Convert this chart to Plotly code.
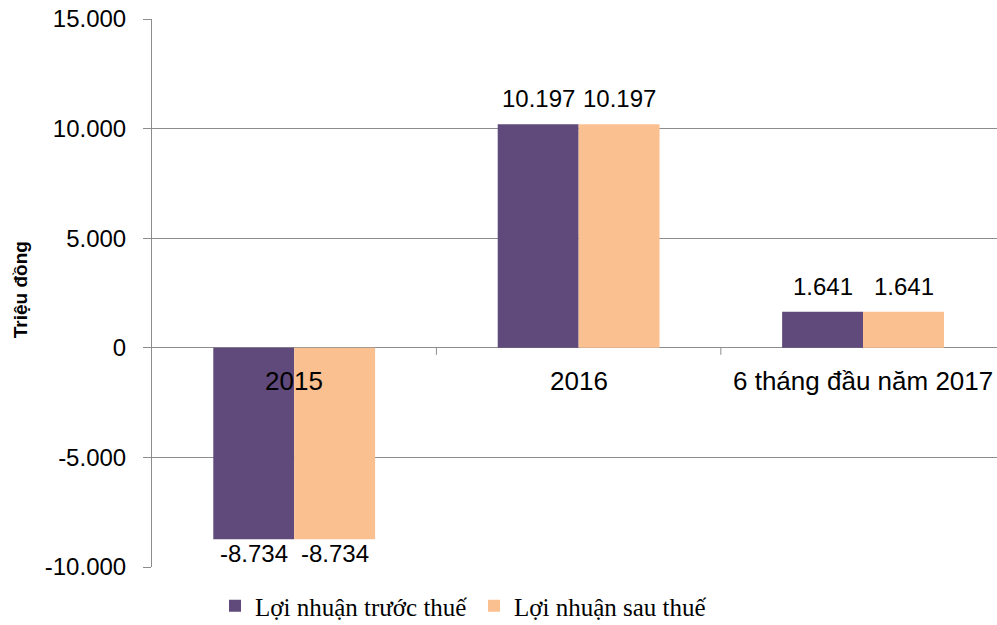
import plotly.graph_objects as go

categories = ["2015", "2016", "6 tháng đầu năm 2017"]
series_names = ["Lợi nhuận trước thuế", "Lợi nhuận sau thuế"]
truoc_thue = [-8734, 10197, 1641]
sau_thue = [-8734, 10197, 1641]
colors = ["#604A7B", "#FAC090"]
tick_vals = [-10000, -5000, 0, 5000, 10000, 15000]
tick_text = ["-10.000", "-5.000", "0", "5.000", "10.000", "15.000"]
y_title = "Triệu đồng"


def fmt(v):
    return f"{v:,}".replace(",", ".")


fig = go.Figure()
for name, vals, col in zip(series_names, [truoc_thue, sau_thue], colors):
    fig.add_trace(go.Bar(x=categories, y=vals, name=name,
                         marker=dict(color=col, line=dict(width=0))))

W, H = 997, 625
left, right, top, bottom = 152, 0, 19, 58
plot_w = W - left - right
plot_h = H - top - bottom
bar_px = 81

annotations = []
for si, vals in enumerate([truoc_thue, sau_thue]):
    xs = -bar_px / 2 if si == 0 else bar_px / 2
    for i, v in enumerate(vals):
        annotations.append(dict(
            x=i, y=v, xref="x", yref="y", text=fmt(v), showarrow=False,
            xshift=xs, yanchor="bottom" if v >= 0 else "top",
            yshift=10 if v >= 0 else 1,
            font=dict(family="Liberation Sans", size=24, color="#000000")))

for i, c in enumerate(categories):
    annotations.append(dict(
        x=i, y=0, xref="x", yref="y", text=c, showarrow=False,
        yanchor="top", yshift=-16,
        font=dict(family="Liberation Sans", size=26, color="#000000")))

annotations.append(dict(
    x=(20 - left) / plot_w, y=0.505, xref="paper", yref="paper",
    text=f"<b>{y_title}</b>", textangle=-90, showarrow=False,
    xanchor="center", yanchor="middle",
    font=dict(family="Liberation Sans", size=19, color="#000000")))

shapes = []
for b in [0.5, 1.5]:
    shapes.append(dict(type="line", xref="x", yref="y", x0=b, x1=b,
                       ysizemode="pixel", yanchor=0, y0=0, y1=-7,
                       line=dict(color="#8c8c8c", width=1)))

fig.update_layout(
    width=W, height=H,
    margin=dict(l=left, r=right, t=top, b=bottom, autoexpand=False),
    paper_bgcolor="white", plot_bgcolor="white",
    barmode="group", bargap=0.431, bargroupgap=0,
    showlegend=True,
    legend=dict(orientation="h", x=(474 - left) / plot_w, xanchor="center",
                y=(H - bottom - 606) / plot_h, yanchor="middle",
                font=dict(family="Liberation Serif", size=25, color="#000000"),
                itemwidth=30, entrywidth=214, traceorder="normal"),
    xaxis=dict(type="category", range=[-0.5, 2.471], showticklabels=False, showgrid=False,
               zeroline=False, showline=False, ticks=""),
    yaxis=dict(range=[-10000, 15000], tickvals=tick_vals, ticktext=tick_text,
               showgrid=True, gridcolor="#8c8c8c", gridwidth=1,
               zeroline=True, zerolinecolor="#8c8c8c", zerolinewidth=1,
               showline=True, linecolor="#8c8c8c", linewidth=1,
               ticks="outside", ticklen=8, tickcolor="#8c8c8c",
               ticklabelstandoff=12, ticklabeloverflow="allow", automargin=False,
               tickfont=dict(family="Liberation Sans", size=24, color="#000000")),
    annotations=annotations,
    shapes=shapes,
)

fig.write_html("out.html", config={"displayModeBar": False},
               post_script="document.body.style.margin='0px';")
